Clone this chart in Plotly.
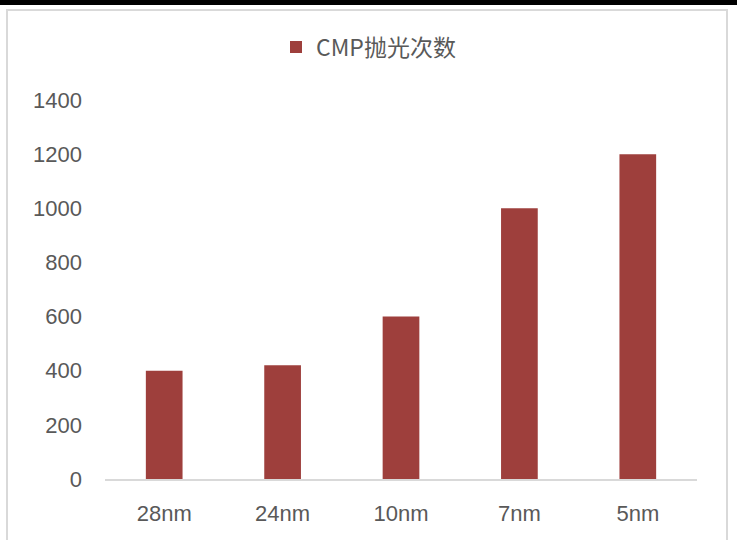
import plotly.graph_objects as go

categories = ["28nm", "24nm", "10nm", "7nm", "5nm"]
values = [400, 420, 600, 1000, 1200]
series_name = "CMP抛光次数"
y_ticks = [0, 200, 400, 600, 800, 1000, 1200, 1400]

W, H = 737, 540
L, R, T, B = 105, 40, 100, 61
pw, ph = W - L - R, H - T - B

def px(x):
    return (x - L) / pw

def py(y):
    return (H - B - y) / ph

fig = go.Figure()
fig.add_trace(go.Bar(
    x=categories, y=values, name=series_name,
    marker=dict(color="#9E3F3C", line=dict(width=0)),
    showlegend=True,
))

fig.update_layout(
    width=W, height=H,
    margin=dict(l=L, r=R, t=T, b=B),
    paper_bgcolor="white", plot_bgcolor="white",
    bargap=0.69,
    font=dict(family="Liberation Sans, Arial, sans-serif", color="#595959", size=22),
    showlegend=True,
    legend=dict(
        orientation="h", x=px(276), xanchor="left", y=py(47), yanchor="middle",
        font=dict(family="Noto Sans CJK SC, sans-serif", size=23, color="#595959"),
        itemwidth=30,
    ),
    xaxis=dict(
        showline=True, linecolor="#d9d9d9", linewidth=1.5,
        ticks="", showgrid=False, ticklabelstandoff=14,
        tickfont=dict(size=22, color="#595959"),
    ),
    yaxis=dict(
        range=[0, 1400], tickvals=y_ticks, showgrid=False, zeroline=False,
        showline=False, ticks="", ticklabelstandoff=22,
        tickfont=dict(size=22, color="#595959"),
    ),
    shapes=[
        dict(type="rect", xref="paper", yref="paper",
             x0=px(7), x1=px(727), y0=py(545), y1=py(10),
             line=dict(color="#d9d9d9", width=2), layer="below"),
        dict(type="rect", xref="paper", yref="paper",
             x0=px(-2), x1=px(740), y0=py(5), y1=py(-2),
             line=dict(width=0), fillcolor="black"),
    ],
)

fig.write_html("out.html")
